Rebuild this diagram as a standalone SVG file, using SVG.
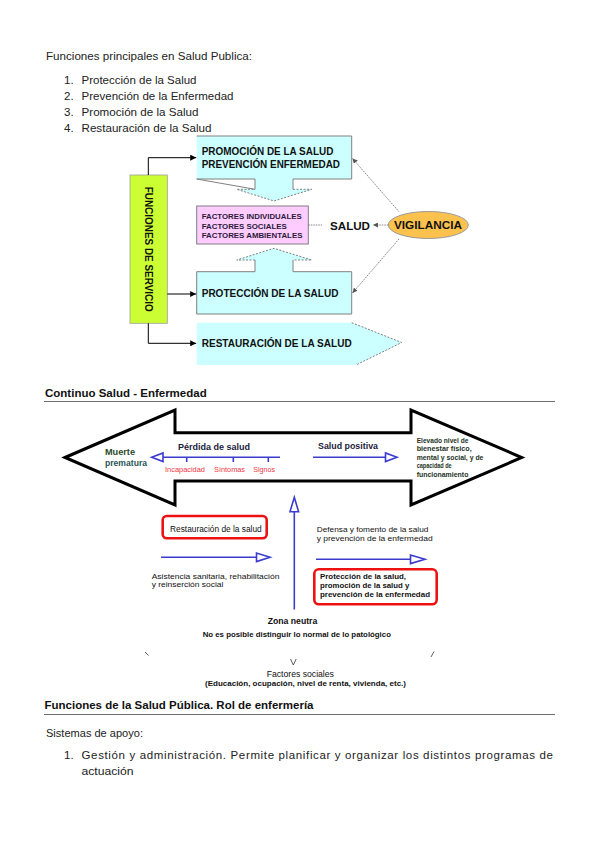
<svg xmlns="http://www.w3.org/2000/svg" width="599" height="848" viewBox="0 0 599 848">
<defs>
<marker id="ah" viewBox="0 0 10 10" refX="10" refY="5" markerWidth="6" markerHeight="6" markerUnits="userSpaceOnUse" orient="auto"><path d="M0,0 L10,5 L0,10 Z" fill="#000"/></marker>
<marker id="ahg" viewBox="0 0 10 10" refX="10" refY="5" markerWidth="5" markerHeight="5" markerUnits="userSpaceOnUse" orient="auto"><path d="M0,0 L10,5 L0,10 Z" fill="#555"/></marker>
</defs>
<style>
.body{font-family:"Liberation Sans",Arial,sans-serif;font-size:11.5px;fill:#222}
.h{font-family:"Liberation Sans",Arial,sans-serif;font-size:11.5px;font-weight:bold;fill:#111}
.b{font-family:"Liberation Sans",Arial,sans-serif;font-weight:bold;fill:#111}
.s{font-family:"Liberation Sans",Arial,sans-serif;fill:#111}
.red-t{fill:#ee3344}
.navy{fill:#1c1c3c}
.green{fill:#1d331d}
.purp{fill:#2a1a3a}
.cy{fill:#CCFFFF}
.gs{stroke:#808080;stroke-width:1;fill:none}
.dot{stroke:#808080;stroke-width:1;fill:none;stroke-dasharray:2 1.5}
.con{stroke:#000;stroke-width:1;fill:none}
.gcon{stroke:#666;stroke-width:0.8;fill:none;stroke-dasharray:1.5 1}
.blue{stroke:#3b3bd0;stroke-width:1.6;fill:none}
.bhead{stroke:#3b3bd0;stroke-width:1.6;fill:#fff}
.red{stroke:#ee1111;stroke-width:2.6;fill:#fff}
.rule{stroke:#6e6e6e;stroke-width:1}
</style>

<!-- top text -->
<g id="intro">
<text class="body" x="46" y="60" textLength="206" lengthAdjust="spacingAndGlyphs">Funciones principales en Salud Publica:</text>
<text class="body" x="64" y="84">1.</text><text class="body" x="81.5" y="84" textLength="115" lengthAdjust="spacingAndGlyphs">Protección de la Salud</text>
<text class="body" x="64" y="100">2.</text><text class="body" x="81.5" y="100" textLength="152" lengthAdjust="spacingAndGlyphs">Prevención de la Enfermedad</text>
<text class="body" x="64" y="116">3.</text><text class="body" x="81.5" y="116" textLength="117" lengthAdjust="spacingAndGlyphs">Promoción de la Salud</text>
<text class="body" x="64" y="132">4.</text><text class="body" x="81.5" y="132" textLength="130" lengthAdjust="spacingAndGlyphs">Restauración de la Salud</text>
</g>

<!-- top diagram -->
<g id="promocion">
<path class="cy" d="M196.7,136 H351.7 V179 H293 V189.3 H311.7 L274,201 L236.7,189.3 H255 V179 H196.7 Z"/>
<path class="gs" d="M196.7,136 H351.7 V179 H293 V189.3 M255,189.3 V179 H196.7 Z"/>
<path class="dot" d="M293,189.3 H311.7 L274,201 L236.7,189.3 H255"/>
<text class="b" font-size="10" x="201.7" y="155.2" textLength="131.7" lengthAdjust="spacingAndGlyphs">PROMOCIÓN DE LA SALUD</text>
<text class="b" font-size="10" x="201.7" y="167.5" textLength="138.3" lengthAdjust="spacingAndGlyphs">PREVENCIÓN ENFERMEDAD</text>
</g>

<g id="factores">
<rect x="196.7" y="206" width="111.6" height="38" fill="#FFCCFF" stroke="#808080" stroke-width="1"/>
<text class="b purp" font-size="7.8" x="201.7" y="218.8" textLength="100" lengthAdjust="spacingAndGlyphs">FACTORES INDIVIDUALES</text>
<text class="b purp" font-size="7.8" x="201.7" y="228.5" textLength="85" lengthAdjust="spacingAndGlyphs">FACTORES SOCIALES</text>
<text class="b purp" font-size="7.8" x="201.7" y="237.8" textLength="100.7" lengthAdjust="spacingAndGlyphs">FACTORES AMBIENTALES</text>
</g>

<g id="proteccion">
<path class="cy" d="M274,248.3 L311.7,260 H293 V271.7 H351.7 V314 H196.7 V271.7 H255 V260 H236.7 Z"/>
<path class="gs" d="M293,260 V271.7 H351.7 V314 H196.7 V271.7 H255 V260"/>
<path class="dot" d="M255,260 H236.7 L274,248.3 L311.7,260 H293"/>
<text class="b" font-size="10" x="201.7" y="296.8" textLength="136.7" lengthAdjust="spacingAndGlyphs">PROTECCIÓN DE LA SALUD</text>
</g>

<g id="restauracion">
<path class="cy" d="M196.7,322.7 H351.7 L401.7,342.5 L356,365 H196.7 Z"/>
<path class="dot" d="M351.7,322.7 L401.7,342.5 L356,365"/>
<text class="b" font-size="10" x="201.7" y="346.8" textLength="150" lengthAdjust="spacingAndGlyphs">RESTAURACIÓN DE LA SALUD</text>
</g>

<g id="funciones-servicio">
<rect x="130" y="175" width="37.3" height="148.3" fill="#CCFF33" stroke="#9c9c9c" stroke-width="0.8"/>
<text class="b" font-size="10" transform="translate(145.2,186.7) rotate(90)" x="0" y="0" textLength="125" lengthAdjust="spacingAndGlyphs">FUNCIONES DE SERVICIO</text>
</g>

<g id="salud">
<text class="b" font-size="11.6" x="330" y="229.8" textLength="40" lengthAdjust="spacingAndGlyphs">SALUD</text>
</g>

<g id="vigilancia">
<ellipse cx="428.3" cy="225" rx="40" ry="13.5" fill="#FDC24E" stroke="#9a9a9a" stroke-width="1"/>
<text class="b" font-size="11.6" x="428" y="229.2" text-anchor="middle" textLength="68" lengthAdjust="spacingAndGlyphs">VIGILANCIA</text>
</g>

<g id="top-connectors">
<path class="con" d="M148.3,175 V157.7 H196.2" marker-end="url(#ah)"/>
<path class="con" d="M167.3,294 H196.2" marker-end="url(#ah)"/>
<path class="con" d="M148.3,323.3 V343.3 H196.2" marker-end="url(#ah)"/>
<path class="gcon" d="M308.3,225 H322"/>
<path class="gcon" d="M388.3,225 H373" marker-end="url(#ahg)"/>
<path class="gcon" d="M399,211.7 L352.5,158.5" marker-end="url(#ahg)"/>
<path class="gcon" d="M399,239 L352.5,293" marker-end="url(#ahg)"/>
</g>

<!-- middle section -->
<g id="continuo-heading">
<text class="h" x="45" y="396.5" textLength="161.7" lengthAdjust="spacingAndGlyphs">Continuo Salud - Enfermedad</text>
<line class="rule" x1="44" y1="401.5" x2="555" y2="401.5"/>
</g>

<g id="big-arrow">
<path d="M65,457.5 L175,410 V432.7 H411 V410 L521.7,457.5 L411,505 V481 H175 V505 Z" fill="#fff" stroke="#000" stroke-width="3" stroke-linejoin="miter"/>
</g>

<g id="perdida">
<text class="b navy" font-size="9" x="178" y="449.8" textLength="72" lengthAdjust="spacingAndGlyphs">Pérdida de salud</text>
<text class="b" font-size="8.6" x="105" y="455.3" textLength="30" lengthAdjust="spacingAndGlyphs" style="fill:#2d4a2a">Muerte</text>
<text class="b" font-size="8.6" x="105" y="466" textLength="42" lengthAdjust="spacingAndGlyphs" style="fill:#2a5656">prematura</text>
<text class="s red-t" font-size="7.4" x="165" y="472" textLength="40" lengthAdjust="spacingAndGlyphs">Incapacidad</text>
<text class="s red-t" font-size="7.4" x="214" y="472" textLength="31" lengthAdjust="spacingAndGlyphs">Síntomas</text>
<text class="s red-t" font-size="7.4" x="253.3" y="472" textLength="21.7" lengthAdjust="spacingAndGlyphs">Signos</text>
</g>

<g id="positiva">
<text class="b navy" font-size="8.6" x="318" y="448.7" textLength="60" lengthAdjust="spacingAndGlyphs">Salud positiva</text>
<text class="b green" font-size="7" x="416.7" y="442.5" textLength="51.7" lengthAdjust="spacingAndGlyphs">Elevado nivel de</text>
<text class="b green" font-size="7" x="416.7" y="451" textLength="55" lengthAdjust="spacingAndGlyphs">bienestar físico,</text>
<text class="b green" font-size="7" x="416.7" y="459.5" textLength="66.7" lengthAdjust="spacingAndGlyphs">mental y social, y de</text>
<text class="b green" font-size="7" x="416.7" y="468" textLength="35" lengthAdjust="spacingAndGlyphs">capacidad de</text>
<text class="b green" font-size="7" x="416.7" y="476.5" textLength="51.7" lengthAdjust="spacingAndGlyphs">funcionamiento</text>
</g>

<g id="restauracion-box">
<rect class="red" x="162.7" y="516" width="104" height="22.3" rx="4"/>
<text class="s" font-size="8.3" x="170" y="532" textLength="91.7" lengthAdjust="spacingAndGlyphs">Restauración de la salud</text>
<text class="s" font-size="8" x="151.7" y="578.5" textLength="127.7" lengthAdjust="spacingAndGlyphs">Asistencia sanitaria, rehabilitación</text>
<text class="s" font-size="8" x="151.7" y="587.2" textLength="71.7" lengthAdjust="spacingAndGlyphs">y reinserción social</text>
</g>

<g id="defensa">
<text class="s" font-size="8" x="316.7" y="532.3" textLength="111.7" lengthAdjust="spacingAndGlyphs">Defensa y fomento de la salud</text>
<text class="s" font-size="8" x="316.7" y="541.3" textLength="116" lengthAdjust="spacingAndGlyphs">y prevención de la enfermedad</text>
</g>

<g id="proteccion-box">
<rect class="red" x="314.3" y="569.3" width="122.4" height="35" rx="4.5"/>
<text class="b" font-size="8" x="320" y="579" textLength="86" lengthAdjust="spacingAndGlyphs">Protección de la salud,</text>
<text class="b" font-size="8" x="320" y="588" textLength="89.3" lengthAdjust="spacingAndGlyphs">promoción de la salud y</text>
<text class="b" font-size="8" x="320" y="597.2" textLength="110" lengthAdjust="spacingAndGlyphs">prevención de la enfermedad</text>
</g>

<g id="zona-neutra">
<text class="b" font-size="8.6" x="292.5" y="623.8" text-anchor="middle" textLength="49.7" lengthAdjust="spacingAndGlyphs">Zona neutra</text>
<text class="b" font-size="7.8" x="296.8" y="637" text-anchor="middle" textLength="188.3" lengthAdjust="spacingAndGlyphs">No es posible distinguir lo normal de lo patológico</text>
</g>

<g id="factores-sociales">
<text class="s" font-size="8.2" x="300.3" y="677" text-anchor="middle" textLength="67.3" lengthAdjust="spacingAndGlyphs">Factores sociales</text>
<text class="b" font-size="7.6" x="305.5" y="685.6" text-anchor="middle" textLength="201" lengthAdjust="spacingAndGlyphs">(Educación, ocupación, nivel  de renta, vivienda, etc.)</text>
</g>

<g id="middle-connectors">
<path class="blue" d="M163,457.3 H280"/>
<path class="bhead" d="M151.7,457.3 L163,453 L163,461.6 Z"/>
<path class="blue" d="M186.7,457.3 V462 M233.3,457.3 V462 M268.3,457.3 V462"/>
<path class="blue" d="M313,457.3 H386"/>
<path class="bhead" d="M397,457.3 L385.5,453 L385.5,461.6 Z"/>
<path class="blue" d="M294.3,511.7 V609.5"/>
<path class="bhead" d="M294.3,497.3 L298.6,511.7 L290,511.7 Z"/>
<path class="blue" d="M161,557.3 H257"/>
<path class="bhead" d="M270,557.3 L256.5,553 L256.5,561.6 Z"/>
<path class="blue" d="M316,559.3 H411"/>
<path class="bhead" d="M425,559.3 L410.5,555 L410.5,563.6 Z"/>
<path d="M145,652 L148.5,655.5 M431,657 L434,651.5 M290.5,659 L293.3,665 L296.2,659" stroke="#333" stroke-width="0.8" fill="none"/>
</g>

<!-- bottom text -->
<g id="rol-enfermeria">
<text class="h" x="44.5" y="709" textLength="269" lengthAdjust="spacingAndGlyphs">Funciones de la Salud Pública. Rol de enfermería</text>
<line class="rule" x1="44" y1="714.5" x2="555" y2="714.5"/>
<text class="body" x="46" y="736.5" textLength="97" lengthAdjust="spacingAndGlyphs">Sistemas de apoyo:</text>
<text class="body" x="64" y="759">1.</text>
<text class="body" x="81.5" y="759" textLength="471.5" lengthAdjust="spacing">Gestión y administración. Permite planificar y organizar los distintos programas de</text>
<text class="body" x="81.5" y="775" textLength="52" lengthAdjust="spacingAndGlyphs">actuación</text>
</g>
</svg>
